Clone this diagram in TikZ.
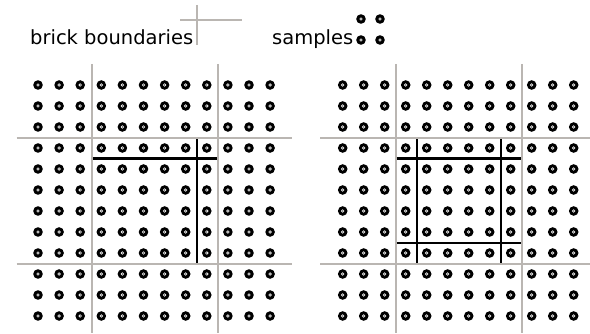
\documentclass[tikz,border=0pt]{standalone}
\usepackage{fontspec}
\setmainfont{DejaVu Sans}
\definecolor{brickgray}{RGB}{186,182,178}
\tikzset{
  graybound/.style={draw=brickgray, line width=2.2pt},
  blackbound/.style={draw=black, line width=2.4pt},
  legendtext/.style={inner sep=0pt, anchor=base west, font=\fontsize{19.5}{22}\selectfont},
}
\newcommand{\sampledot}[2]{%
  \fill[black] (#1,#2) circle[radius=4.8pt];
  \draw[white, line width=0.6pt] (#1,#2) circle[radius=1.3pt];
}
\begin{document}
\begin{tikzpicture}[x=1pt,y=-1pt]
\useasboundingbox (0,0) rectangle (590,334);
% legend
\node[legendtext] (lbb) at (30,45) {brick boundaries};
\draw[graybound] (196.7,5) -- (196.7,45);
\draw[graybound] (180,20) -- (242.3,20);
\node[legendtext] (lsm) at (272,45) {samples};
\sampledot{361}{19}\sampledot{380}{19}\sampledot{361}{40}\sampledot{380}{40}
% left grid
\draw[graybound] (92.3,64) -- (92.3,333);
\draw[graybound] (218.3,64) -- (218.3,333);
\draw[graybound] (16.7,138.3) -- (291.7,138.3);
\draw[graybound] (16.7,264.3) -- (291.7,264.3);
\draw[blackbound] (93.3,158.7) -- (217.3,158.7);
\draw[blackbound] (196.7,139.3) -- (196.7,263.3);
\foreach \i in {0,...,11}{
  \foreach \j in {0,...,11}{
    \pgfmathsetmacro{\xx}{38+21.1*\i}
    \pgfmathsetmacro{\yy}{85+21.0*\j}
    \sampledot{\xx}{\yy}
  }
}
% right grid
\draw[graybound] (396,64) -- (396,333);
\draw[graybound] (521.7,64) -- (521.7,333);
\draw[graybound] (320,138.3) -- (590,138.3);
\draw[graybound] (320,264.3) -- (590,264.3);
\draw[blackbound] (396.7,158.7) -- (520.7,158.7);
\draw[blackbound] (396.7,243.3) -- (520.7,243.3);
\draw[blackbound] (416.7,139.3) -- (416.7,263.3);
\draw[blackbound] (500.7,139.3) -- (500.7,263.3);
\foreach \i in {0,...,11}{
  \foreach \j in {0,...,11}{
    \pgfmathsetmacro{\xx}{342.7+21.0*\i}
    \pgfmathsetmacro{\yy}{85+21.0*\j}
    \sampledot{\xx}{\yy}
  }
}
\end{tikzpicture}
\end{document}
